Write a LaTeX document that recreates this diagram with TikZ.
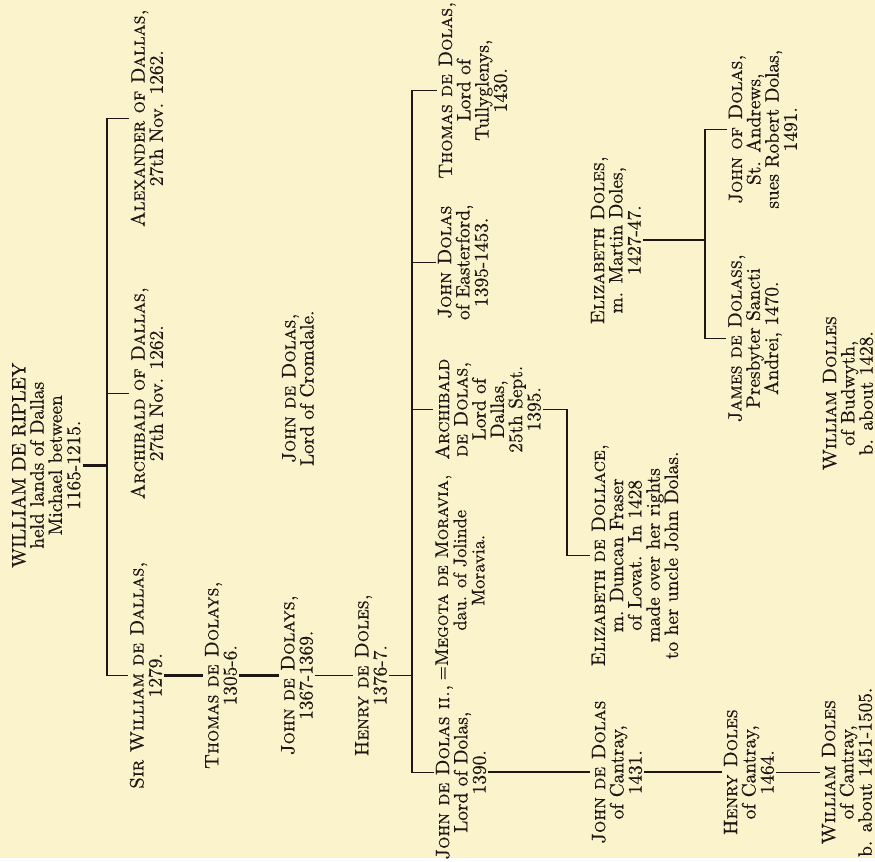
\documentclass[tikz,border=0pt]{standalone}
\usepackage{fontspec}
\setmainfont{Latin Modern Roman}[FakeBold=0.6, SmallCapsFont={Latin Modern Roman Caps}, SmallCapsFeatures={FakeBold=0.6}]
\definecolor{paper}{RGB}{250,243,204}
\definecolor{ink}{RGB}{30,22,18}
\tikzset{
  person/.style={rotate=90, align=center, inner sep=1pt, text=ink, font=\fontsize{11}{10.4}\selectfont},
  line/.style={draw=ink, line width=0.8pt},
  mid/.style={draw=ink, line width=1.1pt},
  heavy/.style={draw=ink, line width=1.8pt},
}
\begin{document}
\begin{tikzpicture}[x=0.02cm, y=-0.02cm]
    \fill[paper] (0,0) rectangle (875,858);
    \coordinate (bara) at (107,0);
    \coordinate (barb) at (412,0);
    \coordinate (barc) at (567,0);
    \coordinate (bard) at (705,0);

    \node[person] (ripley) at (46,465) {WILLIAM DE RIPLEY\\held lands of Dallas\\Michael between\\1165-1215.};
    \node[person] (alex) at (147,118) {\textsc{Alexander of Dallas,}\\27th Nov. 1262.};
    \node[person] (archd) at (147,393) {\textsc{Archibald of Dallas,}\\27th Nov. 1262.};
    \node[person] (sirw) at (146,675) {\textsc{Sir William de Dallas,}\\1279.};
    \node[person] (thomd) at (221,675) {\textsc{Thomas de Dolays,}\\1305-6.};
    \node[person] (johnd) at (297,675) {\textsc{John de Dolays,}\\1367-1369.};
    \node[person] (crom) at (298,388) {\textsc{John de Dolas,}\\Lord of Cromdale.};
    \node[person] (henry) at (371,675) {\textsc{Henry de Doles,}\\1376-7.};
    \node[person] (thoml) at (473,90) {\textsc{Thomas de Dolas,}\\Lord of\\Tullyglenys,\\1430.};
    \node[person] (johne) at (463,262) {\textsc{John Dolas}\\of Easterford,\\1395-1453.};
    \node[person] (archl) at (488,409) {\textsc{Archibald}\\\textsc{de Dolas,}\\Lord of\\Dallas,\\25th Sept.\\1395.};
    \node[person] (johnii) at (461,772) {\textsc{John de Dolas ii.,}\\Lord of Dolas,\\1390.};
    \node[person, font=\fontsize{10.4}{10.4}\selectfont] (megota) at (460,570) {\llap{=}\textsc{Megota de Moravia,}\\dau. of Jolinde\\Moravia.};
    \node[person] (eliz) at (635,555) {\textsc{Elizabeth de Dollace,}\\m. Duncan Fraser\\of Lovat.\ \ In 1428\\made over her rights\\to her uncle John Dolas.};
    \node[person] (johnc) at (617,772) {\textsc{John de Dolas}\\of Cantray,\\1431.};
    \node[person] (elizd) at (616,240) {\textsc{Elizabeth Doles,}\\m. Martin Doles,\\1427-47.};
    \node[person] (henryc) at (749,772) {\textsc{Henry Doles}\\of Cantray,\\1464.};
    \node[person] (jamesd) at (755,338) {\textsc{James de Dolass,}\\Presbyter Sancti\\Andrei, 1470.};
    \node[person] (johns) at (763,129) {\textsc{John of Dolas,}\\St. Andrews,\\sues Robert Dolas,\\1491.};
    \node[person] (willb) at (848,393) {\textsc{William Dolles}\\of Budwyth,\\b. about 1428.};
    \node[person] (willc) at (847,772) {\textsc{William Doles}\\of Cantray,\\b. about 1451-1505.};

    \draw[heavy] (ripley.south) -- (ripley.south -| bara);
    \draw[line] (alex.north) -| (bara |- sirw.north) -- (sirw.north);
    \draw[line] (archd.north) -- (archd.north -| bara);
    \draw[heavy] (sirw.south) -- (sirw.south -| thomd.north);
    \draw[heavy] (thomd.south) -- (thomd.south -| johnd.north);
    \draw[line] (johnd.south) -- (johnd.south -| henry.north);
    \draw[line] (henry.south) -- (henry.south -| barb);
    \draw[line] (thoml.north) -| (barb |- johnii.north) -- (johnii.north);
    \draw[line] (johne.north) -- (johne.north -| barb);
    \draw[line] (archl.north) -- (archl.north -| barb);
    \draw[line] (archl.south) -| (barc |- eliz.north) -- (eliz.north);
    \draw[mid] (johnii.south) -- (johnii.south -| johnc.north);
    \draw[mid] (johnc.south) -- (johnc.south -| henryc.north);
    \draw[line] (henryc.south) -- (henryc.south -| willc.north);
    \draw[line] (johns.north) -| (bard |- jamesd.north) -- (jamesd.north);
    \draw[mid] (elizd.south) -- (elizd.south -| bard);
\end{tikzpicture}
\end{document}
